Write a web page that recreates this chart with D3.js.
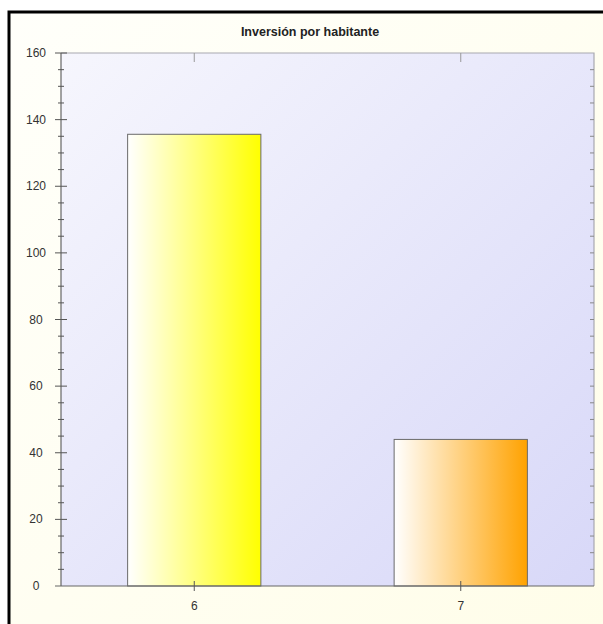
<!DOCTYPE html>
<html><head><meta charset="utf-8">
<script src="https://cdn.jsdelivr.net/npm/d3@7"></script>
<style>html,body{margin:0;padding:0;background:#fff;}svg{display:block;}</style>
</head><body>
<svg id="c" width="603" height="624"></svg>
<script>
const categories = ["6", "7"];
const values = [135.6, 44.0];
const barColors = ["#ffff00", "#ffa200"];
const yTicks = [0, 20, 40, 60, 80, 100, 120, 140, 160];
const title = "Inversión por habitante";

const svg = d3.select("#c");
const defs = svg.append("defs");
const bg = defs.append("linearGradient").attr("id","bg").attr("x1","0").attr("y1","0").attr("x2","1").attr("y2","1");
bg.append("stop").attr("offset","0").attr("stop-color","#fffffa");
bg.append("stop").attr("offset","1").attr("stop-color","#fffde8");
const pg = defs.append("linearGradient").attr("id","pg").attr("x1","0").attr("y1","0").attr("x2","1").attr("y2","1");
pg.append("stop").attr("offset","0").attr("stop-color","#f6f6fd");
pg.append("stop").attr("offset","1").attr("stop-color","#d8d8f8");
barColors.forEach((c,i)=>{
  const g = defs.append("linearGradient").attr("id","bar"+i).attr("x1","0").attr("y1","0").attr("x2","1").attr("y2","0");
  g.append("stop").attr("offset","0").attr("stop-color","#ffffff");
  g.append("stop").attr("offset","1").attr("stop-color",c);
});

svg.append("rect").attr("x",0).attr("y",0).attr("width",603).attr("height",624).attr("fill","#ffffff");
svg.append("rect").attr("x",9).attr("y",12).attr("width",640).attr("height",640)
  .attr("fill","url(#bg)").attr("stroke","#000").attr("stroke-width",3);

const L = 61, R = 594, T = 53, B = 586;
const x = d3.scaleBand().domain(categories).range([L, R]).paddingInner(0.5).paddingOuter(0.25);
const xc = d3.scaleBand().domain(categories).range([L, R]);
const y = d3.scaleLinear().domain([0,160]).range([B, T]);

svg.append("rect").attr("x",L).attr("y",T).attr("width",R-L).attr("height",B-T).attr("fill","url(#pg)");
svg.append("path").attr("d",`M${L},${T}H${R}V${B}`).attr("fill","none").attr("stroke","#a8a8b0").attr("stroke-width",1.2);

svg.selectAll("rect.bar").data(values).enter().append("rect").attr("class","bar")
  .attr("x",(d,i)=>x(categories[i])).attr("y",d=>y(d))
  .attr("width",x.bandwidth()).attr("height",d=>y(0)-y(d))
  .attr("fill",(d,i)=>"url(#bar"+i+")").attr("stroke","#6a6a6a").attr("stroke-width",1);

const minor = d3.range(0,161,5);
const ax = svg.append("g");
ax.append("line").attr("x1",L).attr("x2",L).attr("y1",T).attr("y2",B).attr("stroke","#666").attr("stroke-width",1.2);
ax.append("line").attr("x1",L-6).attr("x2",R).attr("y1",B).attr("y2",B).attr("stroke","#666").attr("stroke-width",1.2);
minor.forEach(v=>{
  const major = v%20===0;
  if (v>0) ax.append("line").attr("x1",major?L-6:L-3).attr("x2",major?L+6:L+3).attr("y1",y(v)).attr("y2",y(v)).attr("stroke","#555").attr("stroke-width",1);
  if (v>0 && v<160) ax.append("line").attr("x1",R-4).attr("x2",R).attr("y1",y(v)).attr("y2",y(v)).attr("stroke","#888").attr("stroke-width",1);
});
ax.selectAll("text.yl").data(yTicks).enter().append("text").attr("class","yl")
  .attr("x",36).attr("y",d=>y(d)+4).attr("text-anchor","middle")
  .attr("font-family","Arial, 'Liberation Sans', sans-serif").attr("font-size",12).attr("fill","#333")
  .text(d=>d);
categories.forEach(c=>{
  const cx = xc(c)+xc.bandwidth()/2;
  ax.append("line").attr("x1",cx).attr("x2",cx).attr("y1",B-5).attr("y2",B+5).attr("stroke","#555");
  ax.append("line").attr("x1",cx).attr("x2",cx).attr("y1",T).attr("y2",T+9).attr("stroke","#999");
  ax.append("text").attr("x",cx).attr("y",610).attr("text-anchor","middle")
    .attr("font-family","Arial, 'Liberation Sans', sans-serif").attr("font-size",12).attr("fill","#333").text(c);
});

svg.append("text").attr("x",310).attr("y",36).attr("text-anchor","middle")
  .attr("font-family","Arial, 'Liberation Sans', sans-serif").attr("font-size",12.5).attr("font-weight","bold").attr("fill","#222")
  .text(title);
</script>
</body></html>
